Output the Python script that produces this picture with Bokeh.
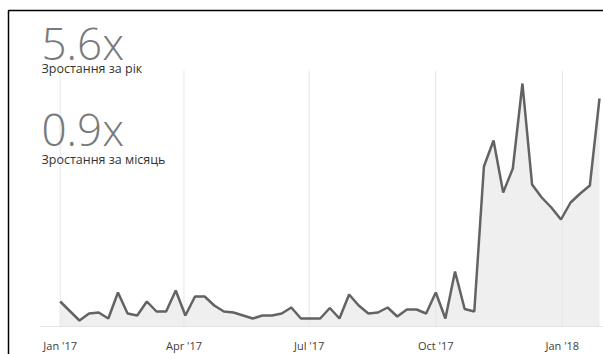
import pandas as pd
from datetime import datetime
from bokeh.plotting import figure
from bokeh.models import Range1d, FixedTicker, Label, PolyAnnotation, DatetimeAxis
from bokeh.embed import file_html
from bokeh.resources import INLINE

# ---- data -------------------------------------------------------------
week_start = "2017-01-01"
n_weeks = 57
weeks = pd.date_range(week_start, periods=n_weeks, freq="7D")
values = [25, 15.5, 6, 13, 14, 8, 34, 13, 11, 25, 15, 15, 36, 11, 30, 30,
          21, 15, 14, 11, 8, 11, 11, 13, 19, 8, 8, 8, 18.5, 8, 32, 21, 13,
          14, 19, 10, 17, 17, 13, 34, 8, 55, 17.5, 15, 160, 186, 134, 158,
          243, 142, 129, 119, 107, 124, 133, 141, 228]

tick_dates = ["2017-01-01", "2017-04-01", "2017-07-01", "2017-10-01", "2018-01-01"]
tick_labels = ["Jan '17", "Apr '17", "Jul '17", "Oct '17", "Jan '18"]

metric_values = ["5.6x", "0.9x"]
metric_labels = ["Зростання за рік", "Зростання за місяць"]

# ---- figure -----------------------------------------------------------
tick_ts = pd.to_datetime(tick_dates)
tick_ms = [t.value / 1e6 for t in tick_ts]
grid_top = 256

p = figure(width=603, height=354,
           x_range=Range1d(datetime(2016, 11, 18, 15), datetime(2018, 1, 30, 22)),
           y_range=Range1d(-28, 326), x_axis_location=None, y_axis_location=None,
           output_backend="svg", toolbar_location=None,
           min_border=0)
p.outline_line_color = None
p.background_fill_color = "white"
p.border_fill_color = "white"
p.xgrid.visible = False
p.ygrid.visible = False

p.varea(x=weeks, y1=0, y2=values, fill_color="#efefef")
p.segment(x0=tick_ts, y0=0, x1=tick_ts, y1=grid_top, line_color="#e6e6e6", line_width=1)
p.line(x=weeks, y=values, line_color="#636363", line_width=2.5)

ax = DatetimeAxis(fixed_location=0,
                  bounds=(datetime(2016, 12, 17, 11), datetime(2018, 1, 30, 22)))
ax.ticker = FixedTicker(ticks=tick_ms)
ax.major_label_overrides = {t: l for t, l in zip(tick_ms, tick_labels)}
ax.major_tick_line_color = None
ax.minor_tick_line_color = None
ax.axis_line_color = "#cfcfcf"
ax.axis_line_dash = "1 1"
ax.major_label_text_font = "Open Sans"
ax.major_label_text_font_size = "11px"
ax.major_label_text_color = "#404040"
ax.major_label_standoff = 5
p.add_layout(ax, "below")

big_font = "Open Sans Light, Lato Light, Open Sans"
sub_font = "Open Sans"
big_y = [312, 226]
sub_y = [286, 195]
for mv, ml, by, sy in zip(metric_values, metric_labels, big_y, sub_y):
    p.add_layout(Label(x=41, y=by, x_units="screen", y_units="screen", text=mv,
                       text_font=big_font, text_font_size="44px",
                       text_color="#7a7a7a", text_baseline="alphabetic"))
    p.add_layout(Label(x=41, y=sy, x_units="screen", y_units="screen", text=ml,
                       text_font=sub_font, text_font_size="12.5px",
                       text_color="#333333", text_baseline="alphabetic"))

# frame border (left + top edges visible)
p.add_layout(PolyAnnotation(xs=[8, 8, 700, 700], ys=[-100, 344, 344, -100],
                            xs_units="screen", ys_units="screen",
                            fill_alpha=0, line_color="black", line_alpha=1.0,
                            line_width=1.5))

open("out.html", "w").write(file_html(p, INLINE))
